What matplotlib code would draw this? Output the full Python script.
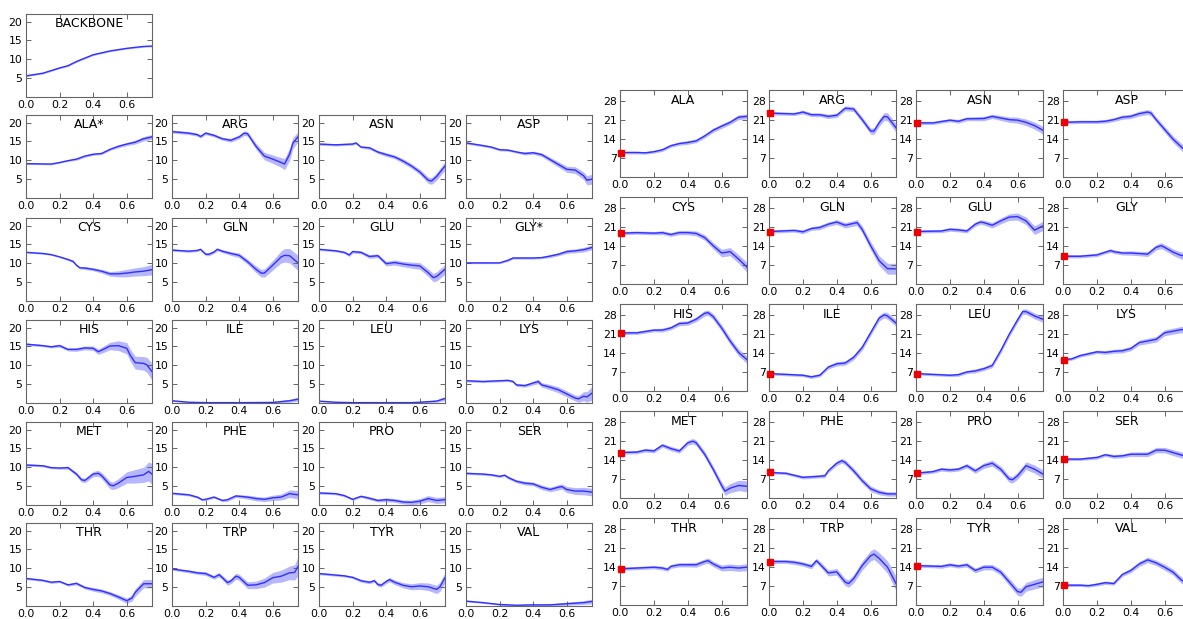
import numpy as np
import matplotlib.pyplot as plt

# ---- left block: 20 residues + backbone, y range 0..22 ----
left_names = ["ALA*", "ARG", "ASN", "ASP",
              "CYS", "GLN", "GLU", "GLY*",
              "HIS", "ILE", "LEU", "LYS",
              "MET", "PHE", "PRO", "SER",
              "THR", "TRP", "TYR", "VAL"]

backbone_x = [0, 0.1, 0.2, 0.25, 0.3, 0.35, 0.4, 0.5, 0.6, 0.7, 0.75]
backbone_y = [5.6, 6.3, 7.7, 8.3, 9.4, 10.3, 11.2, 12.2, 12.9, 13.4, 13.5]
backbone_err = [0.2, 0.2, 0.2, 0.2, 0.2, 0.2, 0.2, 0.2, 0.2, 0.2, 0.2]

left_x = {
    "ALA*": [0, 0.15, 0.2, 0.25, 0.3, 0.35, 0.4, 0.45, 0.5, 0.55, 0.6, 0.65, 0.7, 0.75],
    "ARG": [0, 0.1, 0.15, 0.17, 0.2, 0.25, 0.3, 0.35, 0.4, 0.43, 0.45, 0.5, 0.55, 0.6, 0.65, 0.67, 0.7, 0.72, 0.75],
    "ASN": [0, 0.1, 0.2, 0.22, 0.25, 0.3, 0.35, 0.4, 0.45, 0.5, 0.55, 0.6, 0.65, 0.67, 0.7, 0.75],
    "ASP": [0, 0.1, 0.15, 0.2, 0.25, 0.3, 0.35, 0.4, 0.45, 0.5, 0.55, 0.6, 0.65, 0.7, 0.72, 0.75],
    "CYS": [0, 0.1, 0.15, 0.2, 0.25, 0.28, 0.3, 0.32, 0.35, 0.4, 0.45, 0.5, 0.55, 0.6, 0.65, 0.7, 0.75],
    "GLN": [0, 0.1, 0.15, 0.17, 0.2, 0.22, 0.25, 0.27, 0.3, 0.35, 0.4, 0.45, 0.5, 0.53, 0.55, 0.6, 0.65, 0.67, 0.7, 0.75],
    "GLU": [0, 0.1, 0.15, 0.18, 0.2, 0.25, 0.3, 0.35, 0.4, 0.45, 0.5, 0.55, 0.6, 0.65, 0.68, 0.7, 0.75],
    "GLY*": [0, 0.2, 0.25, 0.28, 0.35, 0.4, 0.45, 0.5, 0.55, 0.6, 0.65, 0.7, 0.75],
    "HIS": [0, 0.1, 0.15, 0.2, 0.25, 0.3, 0.35, 0.4, 0.43, 0.45, 0.5, 0.55, 0.6, 0.62, 0.65, 0.7, 0.72, 0.75],
    "ILE": [0, 0.1, 0.2, 0.4, 0.6, 0.7, 0.75],
    "LEU": [0, 0.1, 0.2, 0.4, 0.55, 0.6, 0.7, 0.75],
    "LYS": [0, 0.1, 0.2, 0.25, 0.28, 0.3, 0.35, 0.4, 0.43, 0.45, 0.5, 0.55, 0.6, 0.65, 0.67, 0.7, 0.72, 0.75],
    "MET": [0, 0.1, 0.15, 0.2, 0.25, 0.3, 0.33, 0.35, 0.4, 0.43, 0.45, 0.5, 0.52, 0.55, 0.6, 0.65, 0.7, 0.73, 0.75],
    "PHE": [0, 0.1, 0.15, 0.18, 0.2, 0.25, 0.3, 0.33, 0.38, 0.45, 0.5, 0.55, 0.6, 0.65, 0.7, 0.75],
    "PRO": [0, 0.1, 0.15, 0.2, 0.25, 0.3, 0.35, 0.4, 0.45, 0.5, 0.55, 0.6, 0.65, 0.7, 0.75],
    "SER": [0, 0.1, 0.15, 0.2, 0.23, 0.25, 0.3, 0.35, 0.4, 0.45, 0.5, 0.55, 0.57, 0.6, 0.65, 0.7, 0.75],
    "THR": [0, 0.1, 0.15, 0.2, 0.25, 0.3, 0.35, 0.4, 0.45, 0.5, 0.55, 0.6, 0.63, 0.65, 0.7, 0.75],
    "TRP": [0, 0.1, 0.15, 0.2, 0.25, 0.28, 0.3, 0.33, 0.35, 0.38, 0.4, 0.45, 0.5, 0.55, 0.6, 0.65, 0.7, 0.73, 0.75],
    "TYR": [0, 0.1, 0.15, 0.2, 0.25, 0.3, 0.33, 0.35, 0.37, 0.4, 0.42, 0.45, 0.5, 0.55, 0.6, 0.65, 0.7, 0.72, 0.75],
    "VAL": [0, 0.1, 0.2, 0.3, 0.4, 0.5, 0.6, 0.7, 0.75],
}
left_y = {
    "ALA*": [9.1, 9.0, 9.4, 9.9, 10.3, 11.1, 11.6, 11.8, 12.9, 13.7, 14.3, 14.8, 15.7, 16.2],
    "ARG": [17.6, 17.2, 16.8, 16.3, 17.2, 16.6, 15.7, 15.3, 16.2, 17.2, 17.0, 13.7, 11.1, 10.3, 9.4, 9.0, 11.6, 14.6, 16.2],
    "ASN": [14.3, 14.1, 14.3, 14.6, 13.5, 13.3, 12.2, 11.5, 10.9, 9.8, 8.5, 6.9, 4.7, 4.5, 5.7, 8.5],
    "ASP": [14.6, 13.9, 13.5, 12.8, 12.7, 12.2, 11.8, 12.0, 11.5, 10.2, 8.9, 7.6, 7.4, 5.9, 4.7, 5.0],
    "CYS": [12.9, 12.6, 12.3, 11.7, 11.0, 10.5, 9.5, 8.8, 8.75, 8.4, 7.9, 7.2, 7.2, 7.4, 7.7, 7.9, 8.3],
    "GLN": [13.5, 13.2, 13.4, 13.7, 12.4, 12.4, 13.0, 13.7, 13.2, 12.6, 12.1, 10.4, 8.4, 7.4, 7.4, 9.5, 11.7, 12.1, 12.0, 10.1],
    "GLU": [13.7, 13.3, 12.9, 12.2, 13.1, 12.9, 11.8, 12.0, 9.9, 10.2, 9.8, 9.5, 9.3, 7.5, 6.2, 6.5, 8.4],
    "GLY*": [10.1, 10.1, 10.8, 11.4, 11.4, 11.4, 11.5, 11.9, 12.4, 13.1, 13.3, 13.6, 14.2],
    "HIS": [15.6, 15.2, 14.9, 15.2, 14.2, 14.2, 14.6, 14.5, 13.6, 14.0, 15.1, 15.2, 14.5, 12.7, 10.7, 10.5, 10.1, 8.3],
    "ILE": [0.6, 0.2, 0.1, 0.1, 0.15, 0.6, 1.0],
    "LEU": [0.5, 0.2, 0.1, 0.1, 0.1, 0.2, 0.5, 1.2],
    "LYS": [5.9, 5.7, 5.9, 6.0, 5.7, 4.8, 4.6, 5.3, 5.7, 4.8, 4.2, 3.5, 2.4, 1.3, 1.1, 1.8, 1.6, 2.6],
    "MET": [10.6, 10.4, 9.9, 9.8, 9.9, 8.2, 6.7, 6.5, 8.2, 8.4, 7.8, 5.3, 5.1, 5.8, 7.3, 7.6, 8.0, 8.9, 8.2],
    "PHE": [3.1, 2.7, 2.1, 1.4, 1.5, 2.1, 1.2, 1.4, 2.4, 2.1, 1.7, 1.5, 1.9, 2.1, 3.0, 2.7],
    "PRO": [3.2, 3.0, 2.5, 1.5, 2.3, 1.8, 1.2, 1.4, 1.2, 0.8, 0.7, 1.0, 1.7, 1.2, 1.4],
    "SER": [8.4, 8.2, 8.0, 7.6, 7.9, 7.3, 6.3, 5.8, 5.6, 4.7, 4.1, 4.7, 4.9, 4.1, 3.7, 3.7, 3.4],
    "THR": [7.3, 6.8, 6.3, 6.5, 5.6, 6.0, 4.9, 4.4, 4.0, 3.3, 2.4, 1.4, 2.1, 3.6, 5.9, 5.9],
    "TRP": [9.8, 9.2, 8.8, 8.6, 7.6, 8.3, 7.5, 6.2, 6.6, 7.9, 7.6, 5.5, 5.6, 6.2, 7.5, 7.9, 8.8, 8.9, 10.5],
    "TYR": [8.6, 8.2, 8.0, 7.6, 6.7, 6.3, 6.7, 5.7, 5.5, 6.5, 7.0, 6.3, 5.5, 5.1, 5.3, 5.1, 4.4, 5.1, 7.5],
    "VAL": [1.3, 0.9, 0.4, 0.2, 0.3, 0.3, 0.6, 0.9, 1.2],
}
left_err = {
    "ALA*": [0.2, 0.2, 0.2, 0.2, 0.3, 0.3, 0.3, 0.3, 0.3, 0.4, 0.4, 0.5, 0.6, 0.6],
    "ARG": [0.4, 0.4, 0.4, 0.4, 0.4, 0.4, 0.4, 0.5, 0.5, 0.6, 0.6, 0.8, 1.0, 1.1, 1.3, 1.5, 1.6, 1.5, 1.3],
    "ASN": [0.3, 0.3, 0.3, 0.3, 0.3, 0.4, 0.4, 0.5, 0.5, 0.6, 0.6, 0.7, 0.8, 0.9, 1.0, 1.1],
    "ASP": [0.3, 0.3, 0.3, 0.3, 0.3, 0.3, 0.4, 0.4, 0.5, 0.6, 0.7, 0.8, 0.9, 1.0, 1.2, 1.3],
    "CYS": [0.2, 0.2, 0.2, 0.2, 0.3, 0.3, 0.3, 0.3, 0.4, 0.4, 0.5, 0.6, 0.8, 1.0, 1.1, 1.2, 1.4],
    "GLN": [0.3, 0.3, 0.3, 0.3, 0.4, 0.4, 0.4, 0.4, 0.4, 0.5, 0.6, 0.7, 0.9, 1.0, 1.1, 1.3, 1.6, 1.8, 1.9, 2.0],
    "GLU": [0.3, 0.3, 0.3, 0.4, 0.4, 0.4, 0.5, 0.5, 0.6, 0.7, 0.7, 0.8, 0.9, 1.0, 1.1, 1.2, 1.3],
    "GLY*": [0.2, 0.2, 0.3, 0.3, 0.3, 0.3, 0.3, 0.4, 0.4, 0.5, 0.5, 0.6, 0.6],
    "HIS": [0.3, 0.3, 0.3, 0.4, 0.4, 0.5, 0.5, 0.6, 0.7, 0.8, 1.0, 1.3, 1.5, 1.6, 1.7, 1.8, 2.0, 2.2],
    "ILE": [0.2, 0.1, 0.1, 0.1, 0.2, 0.4, 0.5],
    "LEU": [0.2, 0.1, 0.1, 0.1, 0.1, 0.2, 0.3, 0.5],
    "LYS": [0.3, 0.3, 0.3, 0.3, 0.3, 0.4, 0.4, 0.5, 0.6, 0.6, 0.7, 0.8, 0.8, 0.8, 0.9, 1.2, 1.4, 1.8],
    "MET": [0.3, 0.3, 0.3, 0.3, 0.4, 0.5, 0.6, 0.6, 0.7, 0.8, 0.8, 1.0, 1.0, 1.2, 1.5, 1.8, 2.0, 2.5, 2.8],
    "PHE": [0.3, 0.3, 0.3, 0.3, 0.3, 0.3, 0.3, 0.4, 0.4, 0.5, 0.6, 0.6, 0.7, 0.8, 1.0, 1.1],
    "PRO": [0.3, 0.3, 0.3, 0.3, 0.3, 0.4, 0.4, 0.5, 0.5, 0.5, 0.6, 0.7, 0.8, 0.8, 0.8],
    "SER": [0.3, 0.3, 0.3, 0.3, 0.3, 0.4, 0.4, 0.5, 0.5, 0.6, 0.6, 0.7, 0.7, 0.8, 0.9, 1.0, 1.0],
    "THR": [0.3, 0.3, 0.3, 0.3, 0.3, 0.4, 0.4, 0.5, 0.5, 0.5, 0.6, 0.7, 0.8, 1.0, 1.1, 1.1],
    "TRP": [0.3, 0.4, 0.4, 0.5, 0.5, 0.6, 0.6, 0.7, 0.7, 0.8, 0.8, 0.9, 1.0, 1.2, 1.4, 1.6, 1.8, 2.0, 2.5],
    "TYR": [0.3, 0.3, 0.3, 0.3, 0.4, 0.4, 0.4, 0.5, 0.5, 0.5, 0.6, 0.6, 0.7, 0.8, 0.9, 1.0, 1.1, 1.2, 1.4],
    "VAL": [0.2, 0.2, 0.2, 0.2, 0.3, 0.3, 0.4, 0.5, 0.6],
}

# ---- right block: 20 residues, y range 0..32, red square = start value ----
right_names = ["ALA", "ARG", "ASN", "ASP",
               "CYS", "GLN", "GLU", "GLY",
               "HIS", "ILE", "LEU", "LYS",
               "MET", "PHE", "PRO", "SER",
               "THR", "TRP", "TYR", "VAL"]

right_x = {
    "ALA": [0, 0.1, 0.15, 0.2, 0.25, 0.3, 0.35, 0.4, 0.45, 0.5, 0.55, 0.6, 0.65, 0.7, 0.75],
    "ARG": [0, 0.1, 0.15, 0.2, 0.25, 0.3, 0.35, 0.4, 0.45, 0.5, 0.55, 0.6, 0.62, 0.65, 0.68, 0.7, 0.75],
    "ASN": [0, 0.1, 0.2, 0.25, 0.3, 0.4, 0.45, 0.5, 0.55, 0.6, 0.65, 0.7, 0.75],
    "ASP": [0, 0.1, 0.2, 0.25, 0.3, 0.35, 0.4, 0.45, 0.5, 0.52, 0.55, 0.6, 0.65, 0.7, 0.75],
    "CYS": [0, 0.1, 0.2, 0.25, 0.3, 0.35, 0.4, 0.45, 0.5, 0.55, 0.6, 0.65, 0.7, 0.75],
    "GLN": [0, 0.15, 0.2, 0.25, 0.3, 0.35, 0.4, 0.45, 0.5, 0.52, 0.55, 0.6, 0.65, 0.7, 0.75],
    "GLU": [0, 0.15, 0.2, 0.25, 0.3, 0.35, 0.38, 0.4, 0.45, 0.5, 0.55, 0.6, 0.65, 0.7, 0.75],
    "GLY": [0, 0.1, 0.2, 0.25, 0.28, 0.3, 0.35, 0.4, 0.45, 0.5, 0.55, 0.58, 0.6, 0.65, 0.7, 0.75],
    "HIS": [0, 0.1, 0.2, 0.25, 0.3, 0.35, 0.4, 0.45, 0.5, 0.52, 0.55, 0.6, 0.65, 0.7, 0.75],
    "ILE": [0, 0.1, 0.2, 0.25, 0.3, 0.35, 0.4, 0.45, 0.5, 0.55, 0.6, 0.65, 0.68, 0.7, 0.75],
    "LEU": [0, 0.1, 0.2, 0.25, 0.3, 0.35, 0.4, 0.45, 0.5, 0.55, 0.6, 0.63, 0.65, 0.7, 0.75],
    "LYS": [0, 0.05, 0.1, 0.2, 0.25, 0.3, 0.35, 0.4, 0.45, 0.5, 0.55, 0.6, 0.65, 0.7, 0.75],
    "MET": [0, 0.1, 0.15, 0.2, 0.25, 0.3, 0.35, 0.4, 0.43, 0.45, 0.5, 0.55, 0.6, 0.62, 0.65, 0.7, 0.75],
    "PHE": [0, 0.1, 0.2, 0.3, 0.33, 0.35, 0.4, 0.43, 0.45, 0.5, 0.55, 0.6, 0.65, 0.7, 0.75],
    "PRO": [0, 0.1, 0.15, 0.2, 0.25, 0.3, 0.35, 0.4, 0.45, 0.5, 0.55, 0.57, 0.6, 0.65, 0.7, 0.75],
    "SER": [0, 0.1, 0.2, 0.25, 0.3, 0.35, 0.4, 0.5, 0.55, 0.6, 0.65, 0.7, 0.75],
    "THR": [0, 0.1, 0.2, 0.25, 0.28, 0.3, 0.35, 0.4, 0.45, 0.5, 0.52, 0.55, 0.6, 0.65, 0.7, 0.75],
    "TRP": [0, 0.1, 0.15, 0.2, 0.25, 0.28, 0.3, 0.35, 0.4, 0.45, 0.47, 0.5, 0.55, 0.6, 0.62, 0.65, 0.7, 0.75],
    "TYR": [0, 0.1, 0.15, 0.2, 0.25, 0.3, 0.35, 0.4, 0.45, 0.5, 0.55, 0.6, 0.62, 0.65, 0.7, 0.75],
    "VAL": [0, 0.1, 0.15, 0.2, 0.25, 0.3, 0.35, 0.4, 0.45, 0.5, 0.55, 0.6, 0.65, 0.7, 0.75],
}
right_y = {
    "ALA": [9.0, 9.0, 8.9, 9.3, 10.0, 11.5, 12.3, 12.7, 13.3, 15.1, 17.2, 18.7, 20.1, 22.0, 22.3],
    "ARG": [23.5, 23.3, 23.2, 23.9, 22.9, 22.9, 22.3, 22.7, 25.3, 25.0, 21.1, 16.9, 16.9, 19.9, 22.3, 22.1, 18.1],
    "ASN": [19.9, 19.9, 20.9, 20.5, 21.4, 21.5, 22.3, 21.7, 21.1, 20.9, 20.1, 18.9, 17.2],
    "ASP": [20.1, 20.3, 20.3, 20.5, 21.1, 22.0, 22.3, 23.3, 23.9, 23.5, 21.1, 17.5, 13.9, 11.0, 8.0],
    "CYS": [18.7, 18.9, 18.7, 18.9, 18.2, 18.9, 18.9, 18.6, 17.1, 14.1, 11.4, 11.9, 9.2, 6.2],
    "GLN": [19.3, 19.7, 19.2, 20.4, 20.8, 22.0, 22.8, 21.6, 22.3, 22.6, 20.1, 14.1, 8.6, 5.6, 5.6],
    "GLU": [19.3, 19.5, 20.1, 19.9, 19.5, 22.0, 22.8, 22.6, 21.6, 23.2, 24.6, 24.8, 23.2, 19.8, 21.4],
    "GLY": [10.2, 10.2, 10.7, 11.7, 12.3, 11.9, 11.4, 11.4, 11.2, 11.0, 13.5, 14.1, 13.5, 11.7, 10.4, 11.7],
    "HIS": [21.4, 21.4, 22.4, 22.4, 23.2, 24.8, 25.0, 26.4, 28.6, 28.8, 27.4, 23.2, 18.4, 14.2, 11.5],
    "ILE": [6.4, 6.1, 5.8, 5.2, 5.8, 8.8, 10.0, 10.3, 12.4, 16.0, 21.4, 26.8, 28.0, 27.6, 25.0],
    "LEU": [6.4, 6.1, 5.8, 6.0, 7.0, 7.4, 8.2, 9.4, 14.8, 20.8, 26.2, 29.2, 29.2, 27.6, 26.4],
    "LYS": [11.5, 11.8, 13.0, 14.4, 14.2, 14.6, 14.8, 15.6, 17.8, 18.4, 19.0, 21.4, 22.0, 22.6, 22.3],
    "MET": [16.7, 16.9, 17.6, 17.3, 19.4, 18.2, 17.3, 20.3, 20.9, 20.3, 16.1, 10.6, 4.6, 2.5, 3.6, 4.6, 4.3],
    "PHE": [9.4, 9.1, 7.6, 8.0, 8.2, 10.0, 12.8, 13.7, 13.1, 10.0, 6.4, 3.4, 2.1, 1.5, 1.5],
    "PRO": [9.1, 9.7, 10.6, 10.3, 10.6, 11.9, 10.0, 11.9, 12.8, 10.6, 7.0, 6.7, 8.2, 11.9, 10.6, 8.8],
    "SER": [14.3, 14.3, 14.9, 15.9, 15.3, 15.5, 16.1, 16.1, 17.6, 17.6, 16.7, 15.8, 14.9],
    "THR": [13.3, 13.6, 13.9, 13.6, 13.1, 14.2, 14.8, 14.8, 14.8, 16.0, 16.3, 15.1, 13.6, 13.9, 13.6, 13.9],
    "TRP": [16.0, 16.0, 15.7, 15.1, 14.2, 16.3, 15.1, 11.8, 12.2, 8.4, 7.9, 9.7, 14.5, 18.1, 18.7, 17.2, 13.9, 7.9],
    "TYR": [14.5, 14.3, 14.2, 14.8, 14.3, 14.8, 12.7, 13.9, 13.9, 12.1, 8.5, 4.9, 4.7, 6.7, 7.6, 8.5],
    "VAL": [7.3, 7.3, 7.1, 7.6, 8.2, 7.9, 11.2, 12.7, 15.1, 16.6, 15.5, 13.9, 12.1, 9.1, 7.9],
}
right_err = {
    "ALA": [0.5, 0.5, 0.5, 0.5, 0.6, 0.6, 0.6, 0.7, 0.7, 0.7, 0.8, 0.8, 0.8, 0.9, 0.9],
    "ARG": [0.6, 0.6, 0.6, 0.7, 0.7, 0.7, 0.8, 0.8, 0.9, 0.9, 1.0, 1.1, 1.2, 1.3, 1.4, 1.5, 1.6],
    "ASN": [0.6, 0.6, 0.6, 0.7, 0.7, 0.8, 0.8, 0.9, 1.0, 1.1, 1.2, 1.3, 1.4],
    "ASP": [0.6, 0.6, 0.6, 0.7, 0.7, 0.8, 0.8, 0.9, 0.9, 1.0, 1.0, 1.1, 1.2, 1.3, 1.4],
    "CYS": [0.6, 0.6, 0.6, 0.7, 0.7, 0.8, 0.8, 0.9, 1.0, 1.2, 1.4, 1.5, 1.6, 1.8],
    "GLN": [0.6, 0.6, 0.7, 0.7, 0.8, 0.8, 0.9, 1.0, 1.0, 1.1, 1.3, 1.5, 1.8, 2.0, 2.0],
    "GLU": [0.6, 0.6, 0.7, 0.7, 0.7, 0.8, 0.8, 0.9, 1.0, 1.1, 1.2, 1.3, 1.4, 1.6, 1.7],
    "GLY": [0.6, 0.6, 0.6, 0.6, 0.7, 0.7, 0.7, 0.8, 0.8, 0.9, 1.0, 1.1, 1.1, 1.2, 1.3, 1.4],
    "HIS": [0.6, 0.6, 0.6, 0.7, 0.7, 0.8, 0.8, 0.9, 1.0, 1.0, 1.1, 1.2, 1.2, 1.3, 1.4],
    "ILE": [0.5, 0.5, 0.5, 0.6, 0.6, 0.7, 0.8, 0.8, 0.9, 1.0, 1.0, 1.1, 1.1, 1.2, 1.2],
    "LEU": [0.5, 0.5, 0.5, 0.6, 0.6, 0.7, 0.7, 0.8, 0.9, 0.9, 1.0, 1.0, 1.0, 1.1, 1.1],
    "LYS": [0.5, 0.5, 0.6, 0.6, 0.7, 0.7, 0.8, 0.8, 0.9, 1.0, 1.0, 1.1, 1.1, 1.2, 1.2],
    "MET": [0.6, 0.6, 0.7, 0.7, 0.7, 0.8, 0.8, 0.9, 1.0, 1.0, 1.1, 1.2, 1.3, 1.5, 1.7, 1.9, 2.0],
    "PHE": [0.5, 0.5, 0.6, 0.6, 0.7, 0.7, 0.8, 0.9, 0.9, 1.0, 1.0, 1.0, 0.9, 0.8, 0.8],
    "PRO": [0.6, 0.6, 0.7, 0.7, 0.7, 0.8, 0.9, 1.0, 1.1, 1.1, 1.2, 1.2, 1.3, 1.4, 1.5, 1.5],
    "SER": [0.5, 0.5, 0.6, 0.6, 0.7, 0.7, 0.8, 0.9, 1.0, 1.0, 1.1, 1.1, 1.2],
    "THR": [0.6, 0.6, 0.6, 0.7, 0.7, 0.7, 0.8, 0.8, 0.9, 0.9, 1.0, 1.0, 1.1, 1.2, 1.2, 1.3],
    "TRP": [0.7, 0.7, 0.8, 0.8, 0.9, 0.9, 1.0, 1.1, 1.2, 1.3, 1.4, 1.5, 1.7, 1.9, 2.0, 2.1, 2.3, 2.6],
    "TYR": [0.6, 0.6, 0.7, 0.7, 0.7, 0.8, 0.9, 1.0, 1.0, 1.1, 1.3, 1.4, 1.5, 1.6, 1.7, 1.8],
    "VAL": [0.5, 0.5, 0.5, 0.6, 0.6, 0.6, 0.7, 0.8, 0.9, 1.0, 1.0, 1.1, 1.1, 1.2, 1.2],
}

W, H = 1183, 619
fig = plt.figure(figsize=(W / 100, H / 100), dpi=100)

line_c = "#3030ff"
fill_c = "#7070ff"
frame_c = "#666666"


def make_ax(left, top, w, h):
    return fig.add_axes([left / W, 1 - (top + h) / H, w / W, h / H])


def draw_panel(ax, name, x, y, err, ylim, yticks, mark=False):
    x = np.array(x)
    y = np.array(y)
    err = np.array(err)
    ax.fill_between(x, y - err, y + err, color=fill_c, alpha=0.5, lw=0)
    ax.plot(x, y, color=line_c, lw=1.0)
    if mark:
        ax.plot([0.008], [y[0]], "s", color="#ee0000", ms=4, mec="#ee0000",
                clip_on=False, zorder=5)
    ax.set_xlim(0, 0.75)
    ax.set_ylim(*ylim)
    ax.set_xticks([0.0, 0.2, 0.4, 0.6])
    ax.set_yticks(yticks)
    ax.tick_params(direction="in", top=True, right=True, length=3.5,
                   width=0.7, color=frame_c, labelsize=7.8, pad=2.5)
    for s in ax.spines.values():
        s.set_color(frame_c)
        s.set_linewidth(0.8)
    ax.text(0.5, 0.885, name, transform=ax.transAxes, ha="center",
            va="center", fontsize=9)


# left block
left_cols = [26, 172, 319, 466]
left_rows = [115, 218, 320, 422, 523]
lw_, lh_ = 126, 83

ax = make_ax(26, 14, lw_, lh_)
draw_panel(ax, "BACKBONE", backbone_x, backbone_y, backbone_err,
           (0, 22), [5, 10, 15, 20])

for i, name in enumerate(left_names):
    r, c = divmod(i, 4)
    ax = make_ax(left_cols[c], left_rows[r], lw_, lh_)
    draw_panel(ax, name, left_x[name], left_y[name], left_err[name],
               (0, 22), [5, 10, 15, 20])

# right block
right_cols = [620, 769, 916, 1063]
right_rows = [90, 197, 304, 411, 518]
rw_, rh_ = 127, 87

for i, name in enumerate(right_names):
    r, c = divmod(i, 4)
    ax = make_ax(right_cols[c], right_rows[r], rw_, rh_)
    draw_panel(ax, name, right_x[name], right_y[name], right_err[name],
               (0, 32), [7, 14, 21, 28], mark=True)

fig.savefig("out.png", dpi=100)
